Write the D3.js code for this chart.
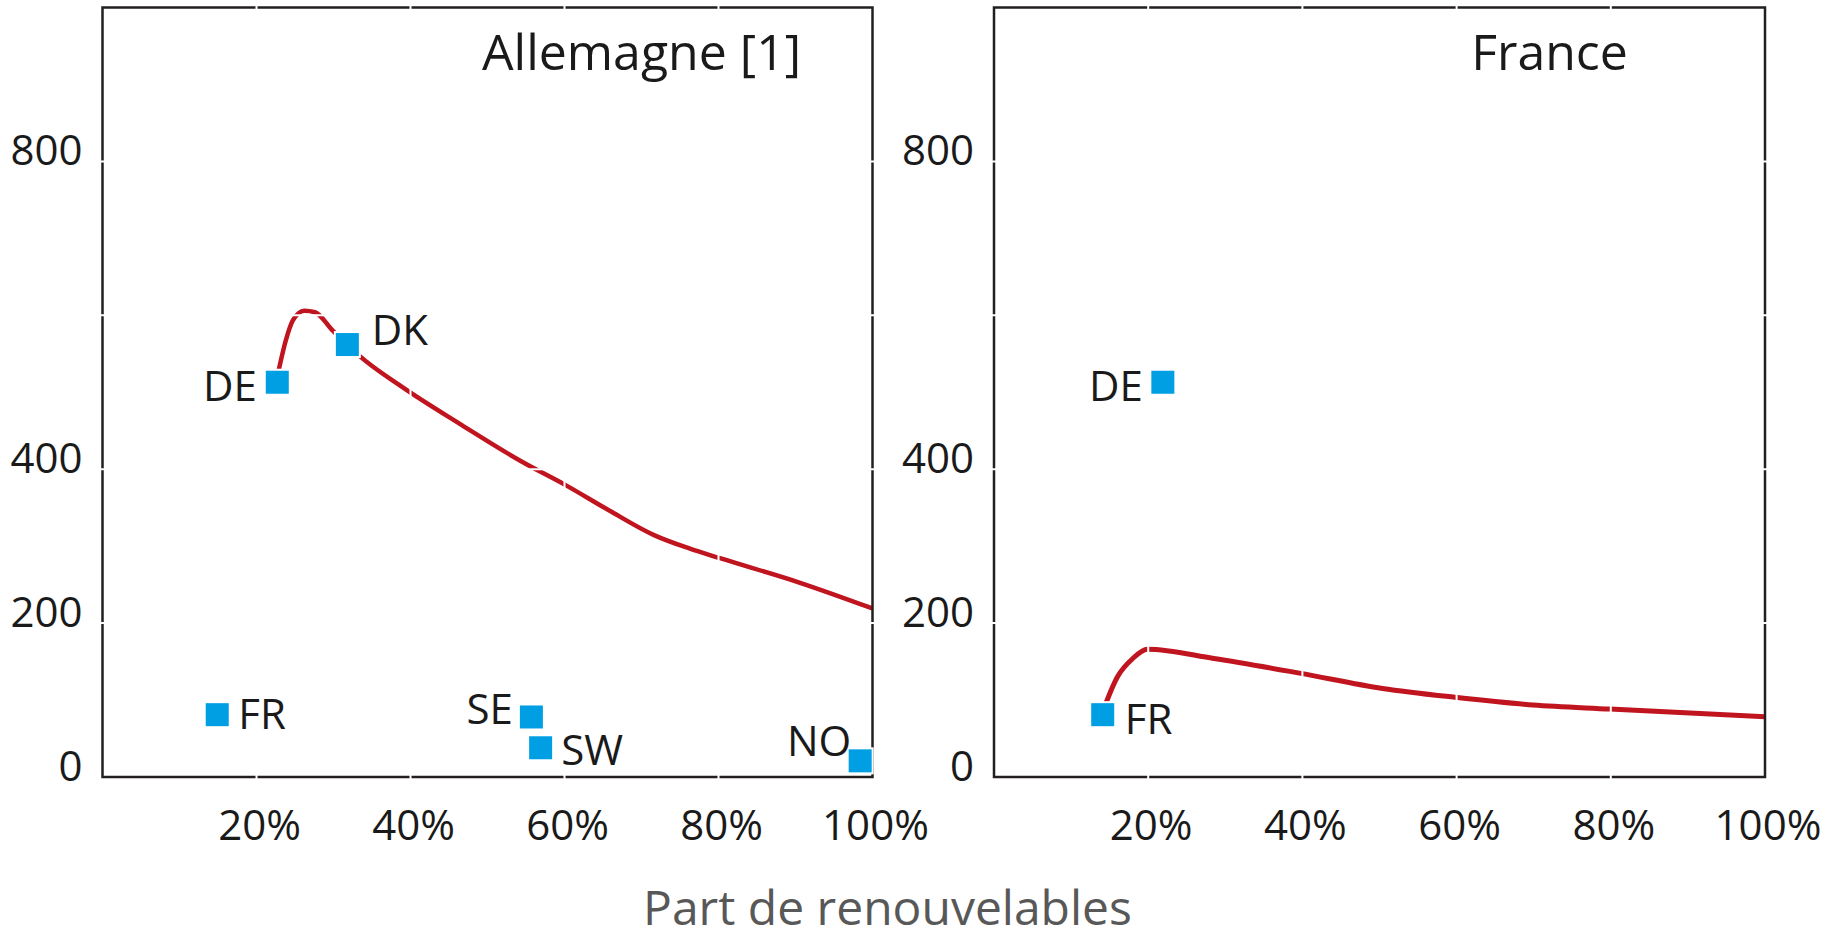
<!DOCTYPE html>
<html>
<head>
<meta charset="utf-8">
<script src="https://cdn.jsdelivr.net/npm/d3@7"></script>
<style>
  html, body { margin: 0; padding: 0; background: #ffffff; }
  svg { display: block; font-family: "Open Sans", "Noto Sans", sans-serif; }
</style>
</head>
<body>
<svg id="chart" width="1845" height="933"></svg>
<script>
// ---- data ----
const xTicks = [20, 40, 60, 80, 100];
const xTickLabels = ["20%", "40%", "60%", "80%", "100%"];
const yGridTicks = [200, 400, 600, 800];
const yLabelTicks = [0, 200, 400, 800];
const yTickLabels = ["0", "200", "400", "800"];

const panelTitles = ["Allemagne [1]", "France"];
const axisTitle = "Part de renouvelables";

// Germany panel: countries
const deCodes  = ["DE", "DK", "FR", "SE", "SW", "NO"];
const deShares = [22.7, 31.8, 14.9, 55.7, 56.9, 98.4];
const deValues = [513, 562, 81, 78, 38, 21];

// Germany panel: trajectory
const deCurveShares = [22.7, 23.8, 24.7, 26.2, 27.6, 29.9, 31.8, 33.3, 38.9, 46.4, 54.6, 60.2, 65.7, 71.7, 76.2, 80.3, 90.4, 100];
const deCurveValues = [520, 567, 593, 606, 604, 580, 562, 548, 507, 459, 409, 379, 347, 314, 297, 284, 253, 219];

// France panel: countries
const frCodes  = ["DE", "FR"];
const frShares = [21.9, 14.1];
const frValues = [513, 81];

// France panel: trajectory
const frCurveShares = [14.1, 16.0, 18.0, 19.9, 28.5, 39.6, 50.4, 59.8, 69.9, 79.9, 100];
const frCurveValues = [85, 130, 154, 166, 154, 135, 115, 103.5, 93.5, 88.3, 78.3];

// ---- layout ----
const panelBoxes = [
  { left: 102.5, right: 872.5, titleX: 641.5, curveWidth: 4.5 },
  { left: 994, right: 1765, titleX: 1549.5, curveWidth: 5 }
];
const plotTop = 7.5, plotBottom = 777;
const labelLayouts = [
  { DE: ["end", -20.5, 19], DK: ["start", 24.5, 0], FR: ["start", 21, 14.5],
    SE: ["end", -18.5, 7], SW: ["start", 20.5, 17], NO: ["end", -9, -5] },
  { DE: ["end", -20, 19], FR: ["start", 22, 19] }
];

const C_FRAME = "#231f20", C_CURVE = "#c0141f", C_POINT = "#009fe3", C_TEXT = "#1a1a1a";
const SQ = 23;

const svg = d3.select("#chart");

function drawPanel(i, codes, shares, values, curveShares, curveValues) {
  const box = panelBoxes[i];
  const x = d3.scaleLinear().domain([0, 100]).range([box.left, box.right]);
  const y = d3.scaleLinear().domain([0, 1000]).range([plotBottom, plotTop]);
  const g = svg.append("g");

  // trajectory
  const line = d3.line()
    .x((d, k) => x(curveShares[k]))
    .y((d, k) => y(curveValues[k]))
    .curve(d3.curveMonotoneX);
  g.append("path")
    .datum(curveShares)
    .attr("d", line)
    .attr("fill", "none")
    .attr("stroke", C_CURVE)
    .attr("stroke-width", box.curveWidth);

  // frame
  g.append("rect")
    .attr("x", x(0)).attr("y", y(1000))
    .attr("width", x(100) - x(0)).attr("height", y(0) - y(1000))
    .attr("fill", "none")
    .attr("stroke", C_FRAME)
    .attr("stroke-width", 2.5);

  // white grid lines cutting the frame and the curve
  g.selectAll("line.vgrid").data(xTicks.filter(t => t < 100)).join("line")
    .attr("class", "vgrid")
    .attr("x1", d => x(d)).attr("x2", d => x(d))
    .attr("y1", y(1000) - 3).attr("y2", y(0) + 3)
    .attr("stroke", "#fff").attr("stroke-width", 2);
  g.selectAll("line.hgrid").data(yGridTicks).join("line")
    .attr("class", "hgrid")
    .attr("x1", x(0) - 3).attr("x2", x(100) + 3)
    .attr("y1", d => y(d)).attr("y2", d => y(d))
    .attr("stroke", "#fff").attr("stroke-width", 2);

  // y axis labels
  g.selectAll("text.ylab").data(yLabelTicks).join("text")
    .attr("class", "ylab")
    .attr("x", x(0) - 20)
    .attr("y", d => y(d) + 4)
    .attr("text-anchor", "end")
    .attr("font-size", 42)
    .attr("fill", C_TEXT)
    .text((d, k) => yTickLabels[k]);

  // x axis labels
  g.selectAll("text.xlab").data(xTicks).join("text")
    .attr("class", "xlab")
    .attr("x", d => x(d) + 3)
    .attr("y", 840)
    .attr("text-anchor", "middle")
    .attr("font-size", 42)
    .attr("fill", C_TEXT)
    .text((d, k) => xTickLabels[k]);

  // title
  g.append("text")
    .attr("x", box.titleX).attr("y", 70)
    .attr("text-anchor", "middle")
    .attr("font-size", 50)
    .attr("fill", C_TEXT)
    .text(panelTitles[i]);

  // country markers with white halo
  const pts = g.selectAll("g.pt").data(codes).join("g").attr("class", "pt");
  pts.append("rect")
    .attr("x", (d, k) => x(shares[k]) - SQ / 2 - 2)
    .attr("y", (d, k) => y(values[k]) - SQ / 2 - 2)
    .attr("width", SQ + 4).attr("height", SQ + 4)
    .attr("fill", "#fff");
  pts.append("rect")
    .attr("x", (d, k) => x(shares[k]) - SQ / 2)
    .attr("y", (d, k) => y(values[k]) - SQ / 2)
    .attr("width", SQ).attr("height", SQ)
    .attr("fill", C_POINT);

  // country labels
  const lay = labelLayouts[i];
  g.selectAll("text.code").data(codes).join("text")
    .attr("class", "code")
    .attr("x", (d, k) => x(shares[k]) + lay[d][1])
    .attr("y", (d, k) => y(values[k]) + lay[d][2])
    .attr("text-anchor", d => lay[d][0])
    .attr("font-size", 42)
    .attr("fill", C_TEXT)
    .text(d => d);
}

drawPanel(0, deCodes, deShares, deValues, deCurveShares, deCurveValues);
drawPanel(1, frCodes, frShares, frValues, frCurveShares, frCurveValues);

// shared x axis title
svg.append("text")
  .attr("x", 887.5).attr("y", 925)
  .attr("text-anchor", "middle")
  .attr("font-size", 48)
  .attr("fill", "#585858")
  .text(axisTitle);
</script>
</body>
</html>
